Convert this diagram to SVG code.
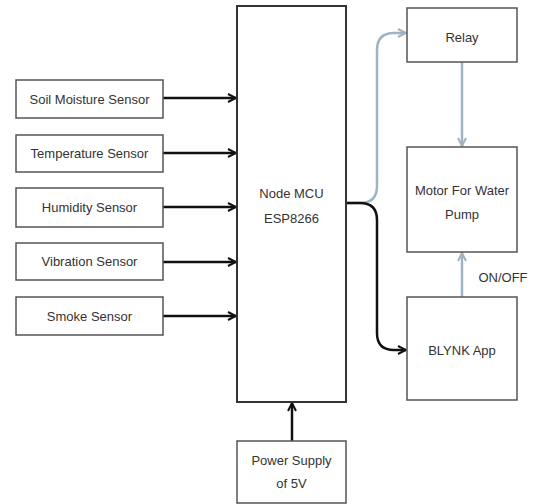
<svg xmlns="http://www.w3.org/2000/svg" width="536" height="504" viewBox="0 0 536 504">
<defs>
<style>
.box{fill:#fff;stroke:#555;stroke-width:1.5}
.main{fill:#fff;stroke:#333;stroke-width:2}
.t{font-family:"Liberation Sans",Arial,sans-serif;font-size:13px;fill:#333;text-anchor:middle;dominant-baseline:central}
.blk{fill:none;stroke:#111;stroke-width:2.5}
.blu{fill:none;stroke:#9fb4c2;stroke-width:2.5}
</style>
<marker id="ak" viewBox="0 0 10 10" refX="9" refY="5" markerWidth="4" markerHeight="4" orient="auto" markerUnits="strokeWidth">
<path d="M1,1 L9,5 L1,9" fill="none" stroke="#111" stroke-width="2"/>
</marker>
<marker id="ab" viewBox="0 0 10 10" refX="9" refY="5" markerWidth="4" markerHeight="4" orient="auto" markerUnits="strokeWidth">
<path d="M1,1 L9,5 L1,9" fill="none" stroke="#9fb4c2" stroke-width="2"/>
</marker>
</defs>
<rect width="536" height="504" fill="#fff"/>
<g id="connectors">
<line class="blk" x1="163" y1="98" x2="236" y2="98" marker-end="url(#ak)"/>
<line class="blk" x1="163" y1="153" x2="236" y2="153" marker-end="url(#ak)"/>
<line class="blk" x1="163" y1="207" x2="236" y2="207" marker-end="url(#ak)"/>
<line class="blk" x1="163" y1="262" x2="236" y2="262" marker-end="url(#ak)"/>
<line class="blk" x1="163" y1="316" x2="236" y2="316" marker-end="url(#ak)"/>
<line class="blk" x1="292" y1="441" x2="292" y2="403" marker-end="url(#ak)"/>
<path class="blu" d="M346,203 L360,203 Q377,203 377,186 L377,50 Q377,33 394,33 L406,33" marker-end="url(#ab)"/>
<path class="blk" d="M346,203 L360,203 Q377,203 377,220 L377,333 Q377,350 394,350 L406,350" marker-end="url(#ak)"/>
<line class="blu" x1="462" y1="62" x2="462" y2="146" marker-end="url(#ab)"/>
<line class="blu" x1="462" y1="297" x2="462" y2="253" marker-end="url(#ab)"/>
</g>
<g id="soil"><rect class="box" x="16" y="80" width="147" height="38"/><text class="t" x="89.5" y="99">Soil Moisture Sensor</text></g>
<g id="temperature"><rect class="box" x="16" y="135" width="147" height="37"/><text class="t" x="89.5" y="153.5">Temperature Sensor</text></g>
<g id="humidity"><rect class="box" x="16" y="188" width="147" height="39"/><text class="t" x="89.5" y="207.5">Humidity Sensor</text></g>
<g id="vibration"><rect class="box" x="16" y="243" width="147" height="37"/><text class="t" x="89.5" y="261.5">Vibration Sensor</text></g>
<g id="smoke"><rect class="box" x="16" y="297" width="147" height="38"/><text class="t" x="89.5" y="316">Smoke Sensor</text></g>
<g id="nodemcu"><rect class="main" x="237" y="6" width="109" height="396"/><text class="t" x="291.5" y="193">Node MCU</text><text class="t" x="291.5" y="218">ESP8266</text></g>
<g id="power"><rect class="box" x="237" y="441" width="109" height="62"/><text class="t" x="291.5" y="460">Power Supply</text><text class="t" x="291.5" y="483">of 5V</text></g>
<g id="relay"><rect class="box" x="407" y="8" width="110" height="54"/><text class="t" x="462" y="37">Relay</text></g>
<g id="motor"><rect class="box" x="407" y="147" width="110" height="105"/><text class="t" x="462" y="190">Motor For Water</text><text class="t" x="462" y="214">Pump</text></g>
<g id="blynk"><rect class="box" x="407" y="297" width="110" height="103"/><text class="t" x="462" y="350">BLYNK App</text></g>
<text class="t" x="503" y="277">ON/OFF</text>
</svg>
